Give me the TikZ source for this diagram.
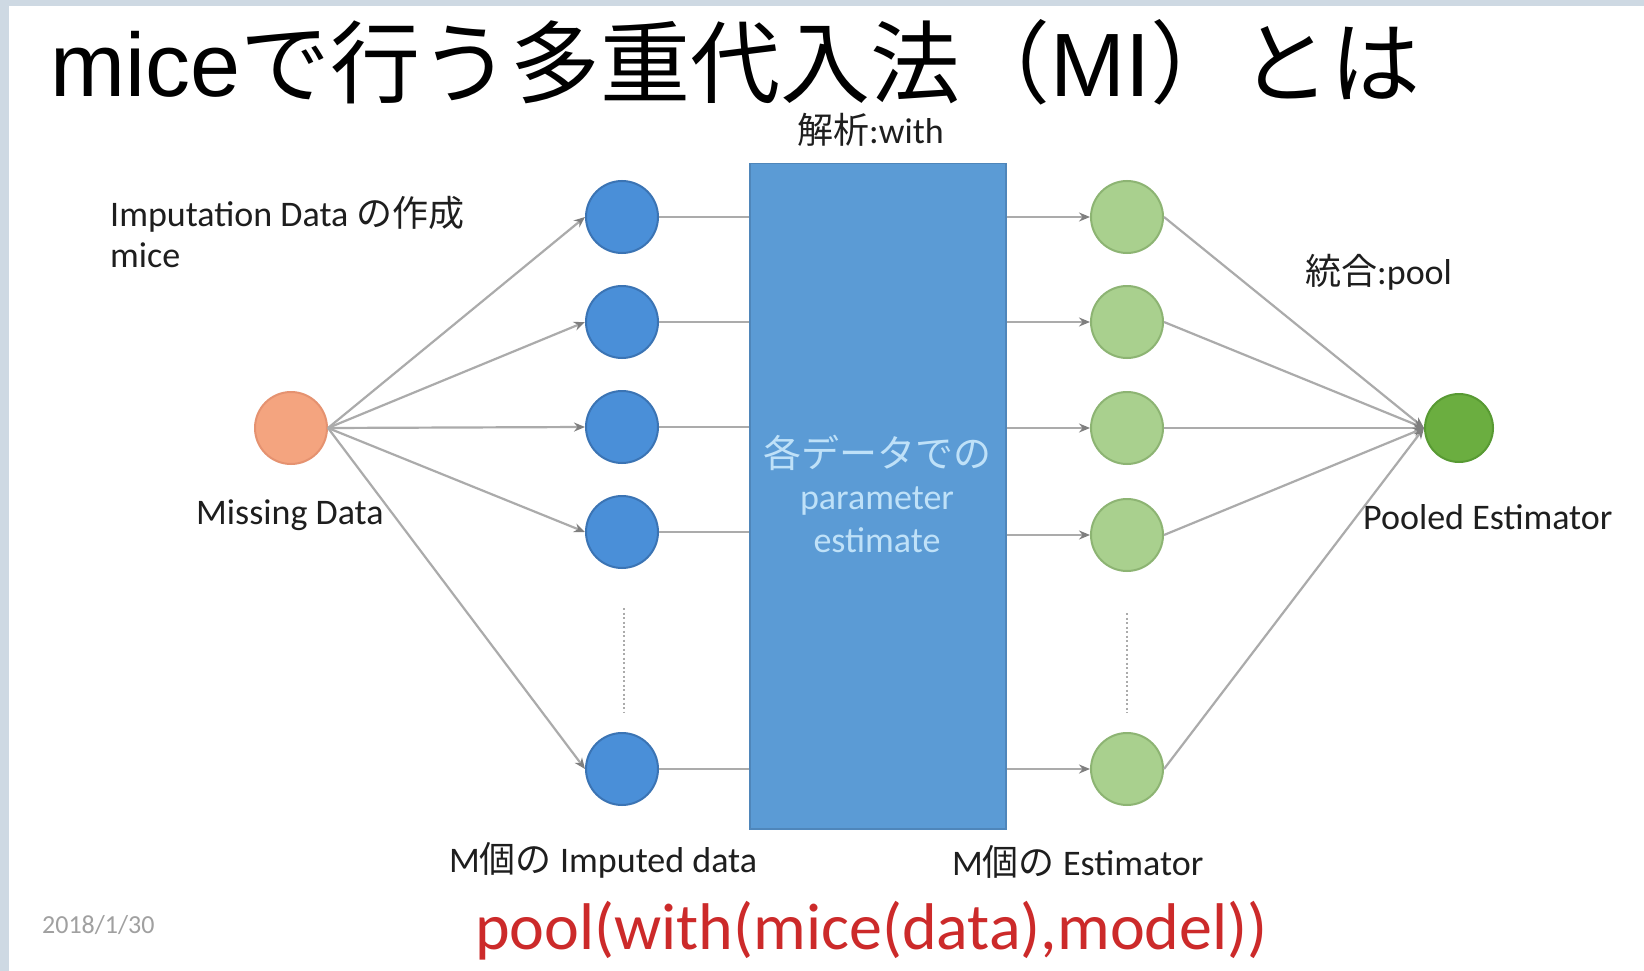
\documentclass[tikz,border=0pt]{standalone}
\usepackage{fontspec}
\setmainfont{Carlito}
\newfontfamily\jp{Noto Sans CJK JP}
\newfontfamily\arial{Liberation Sans}
\usetikzlibrary{arrows.meta}

\definecolor{framebg}{HTML}{CED9E3}
\definecolor{missingfill}{HTML}{F4A47F}
\definecolor{missingedge}{HTML}{E59270}
\definecolor{impfill}{HTML}{4A8FD8}
\definecolor{impedge}{HTML}{3B74B4}
\definecolor{estfill}{HTML}{A9D08E}
\definecolor{estedge}{HTML}{8DB473}
\definecolor{poolfill}{HTML}{6BAE40}
\definecolor{pooledge}{HTML}{589A33}
\definecolor{boxblue}{HTML}{5B9BD5}
\definecolor{boxedge}{HTML}{4F86BA}
\definecolor{boxtext}{HTML}{BFE1F8}
\definecolor{linegray}{HTML}{ABABAB}
\definecolor{tipgray}{HTML}{7F7F7F}
\definecolor{labelc}{HTML}{1E1E1E}
\definecolor{codered}{HTML}{CC2A2A}
\definecolor{dategray}{HTML}{A0A0A0}

\begin{document}
\begin{tikzpicture}[x=1pt,y=-1pt,
  dot/.style={circle,minimum size=72pt,inner sep=0pt,line width=2pt},
  missing/.style={dot,fill=missingfill,draw=missingedge},
  imputed/.style={dot,fill=impfill,draw=impedge},
  estim/.style={dot,fill=estfill,draw=estedge},
  pooled/.style={dot,minimum size=68pt,fill=poolfill,draw=pooledge},
  link/.style={draw=linegray,line width=2.2pt},
  arr/.style={link,-{Stealth[length=11pt,width=9pt,color=tipgray]}},
  dots/.style={draw=linegray,line width=2.5pt,dash pattern=on 2pt off 2.5pt},
  lbl/.style={font=\fontsize{36}{40}\selectfont,text=labelc,inner sep=0pt,anchor=base west},
  boxlbl/.style={font=\fontsize{36}{40}\selectfont,text=boxtext,inner sep=0pt}
]
\useasboundingbox (0,0) rectangle (1644,971);
\fill[white] (0,0) rectangle (1644,971);
% slide frame
\fill[framebg] (0,0) rectangle (1644,6);
\fill[framebg] (0,0) rectangle (9,971);

% title
\node[inner sep=0pt,anchor=base west] (title) at (50,97)
  {\fontsize{90}{100}\selectfont\arial mice{\jp で行う多重代入法（}MI{\jp ）とは}};

% missing data
\node[missing] (m) at (291,428) {};

% imputed data sets
\node[imputed] (b1) at (622,217) {};
\node[imputed] (b2) at (622,322) {};
\node[imputed] (b3) at (622,427) {};
\node[imputed] (b4) at (622,532) {};
\node[imputed] (b5) at (622,769) {};
\coordinate (bd1) at (624,608);
\coordinate (bd2) at (624,713);

% analysis box
\node[fill=boxblue,draw=boxedge,line width=1.5pt,minimum width=256pt,minimum height=665pt,
      inner sep=0pt,anchor=north west] (box) at (749,163) {};
\node[boxlbl,font=\jp\fontsize{38}{40}\selectfont] (bt1) at (877,453) {各データでの};
\node[boxlbl] (bt2) at (877,501) {parameter};
\node[boxlbl] (bt3) at (877,540) {estimate};

% estimators
\node[estim] (g1) at (1127,217) {};
\node[estim] (g2) at (1127,322) {};
\node[estim] (g3) at (1127,428) {};
\node[estim] (g4) at (1127,535) {};
\node[estim] (g5) at (1127,769) {};
\coordinate (gd1) at (1127,613);
\coordinate (gd2) at (1127,713);

% pooled estimator
\node[pooled] (p) at (1459,428) {};

% connectors
\foreach \i in {1,...,5} {
  \draw[arr] (m.east) -- (b\i.west);
  \draw[link] (b\i.east) -- (b\i.east -| box.west);
  \draw[arr] (g\i.west -| box.east) -- (g\i.west);
  \draw[arr] (g\i.east) -- (p.west);
}
\draw[dots] (bd1) -- (bd2);
\draw[dots] (gd1) -- (gd2);

% labels
\node[lbl] (limp) at (110,226) {Imputation Data {\jp の作成}};
\node[lbl] (lmice) at (110,267) {mice};
\node[lbl] (lwith) at (797,143) {{\jp 解析}:with};
\node[lbl] (lpool) at (1305,284) {{\jp 統合}:pool};
\node[lbl] (lmiss) at (196,524) {Missing Data};
\node[lbl] (lpest) at (1363,529) {Pooled Estimator};
\node[lbl] (lmimp) at (449,872) {M{\jp 個の} Imputed data};
\node[lbl] (lmest) at (952,875) {M{\jp 個の} Estimator};

% code line and date
\node[inner sep=0pt,anchor=base west,text=codered,font=\fontsize{66}{70}\selectfont] (code) at (475,949)
  {pool(with(mice(data),model))};
\node[inner sep=0pt,anchor=base west,text=dategray,font=\fontsize{26}{28}\selectfont] (date) at (42,933)
  {2018/1/30};
\end{tikzpicture}
\end{document}
